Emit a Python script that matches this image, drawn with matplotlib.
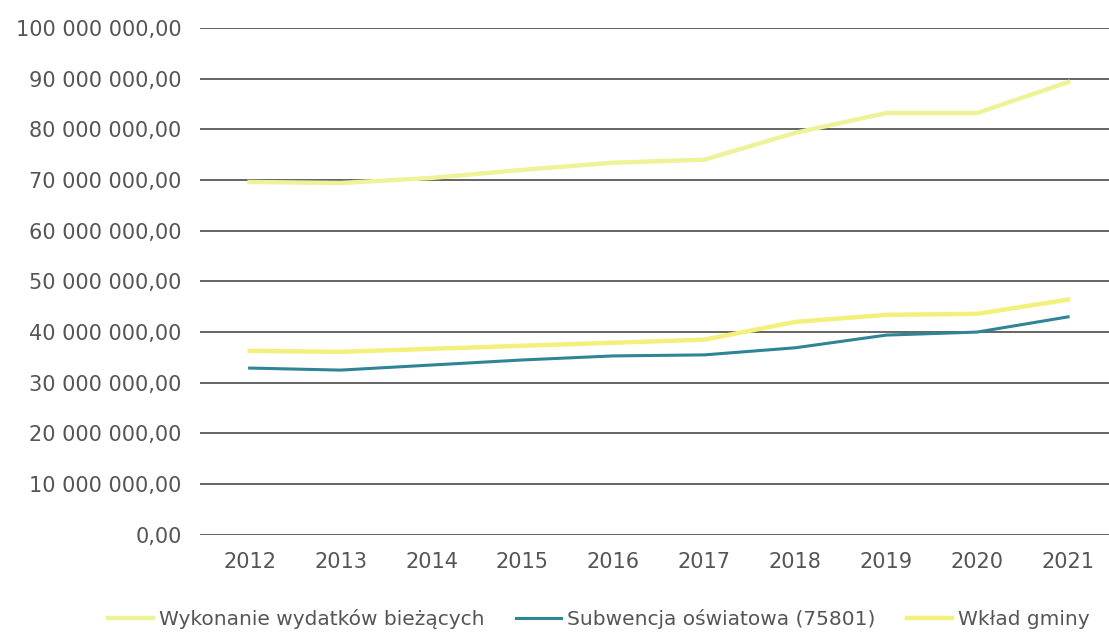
import numpy as np
import matplotlib.pyplot as plt
from matplotlib.ticker import FuncFormatter

# Dane (zł)
lata = ['2012', '2013', '2014', '2015', '2016', '2017', '2018', '2019', '2020', '2021']
wykonanie = [69.6, 69.4, 70.4, 72.0, 73.4, 74.0, 79.3, 83.2, 83.2, 89.3]
subwencja = [32.9, 32.5, 33.5, 34.5, 35.3, 35.5, 36.9, 39.4, 40.0, 43.0]
wklad = [36.3, 36.1, 36.7, 37.3, 37.9, 38.5, 42.0, 43.4, 43.6, 46.4]

wykonanie = np.array(wykonanie) * 1e6
subwencja = np.array(subwencja) * 1e6
wklad = np.array(wklad) * 1e6

plt.rcParams['font.family'] = ['DejaVu Sans']
txt = '#555555'

fig = plt.figure(figsize=(11.09, 6.33), dpi=100)
ax = fig.add_axes([0.18, 0.155, 0.82, 0.801])

x = np.arange(len(lata))
ax.plot(x, wykonanie, color='#eef39a', lw=3.2, label='Wykonanie wydatków bieżących', zorder=3)
ax.plot(x, subwencja, color='#2f8596', lw=2.2, label='Subwencja oświatowa (75801)', zorder=3)
ax.plot(x, wklad, color='#f4f07c', lw=3.2, label='Wkład gminy', zorder=3)

ax.set_ylim(0, 100e6)
ax.set_xlim(-0.55, 9.45)
ax.set_yticks(np.arange(0, 100e6 + 1, 10e6))
ax.yaxis.set_major_formatter(FuncFormatter(
    lambda v, p: f'{v:,.2f}'.replace(',', ' ').replace('.', ',')))
ax.set_xticks(x)
ax.set_xticklabels(lata)
ax.grid(axis='y', color='#3a3a3a', lw=1.1)
ax.set_axisbelow(True)
for s in ax.spines.values():
    s.set_visible(False)
ax.tick_params(length=0, labelsize=15, labelcolor=txt)
ax.tick_params(axis='y', pad=13)
ax.tick_params(axis='x', pad=12)

fig.legend(loc='lower center', bbox_to_anchor=(0.54, -0.022), ncol=3, frameon=False,
           fontsize=14.5, labelcolor=txt, handlelength=2.2, handletextpad=0.3,
           columnspacing=1.6)

fig.savefig('out.png', dpi=100)
